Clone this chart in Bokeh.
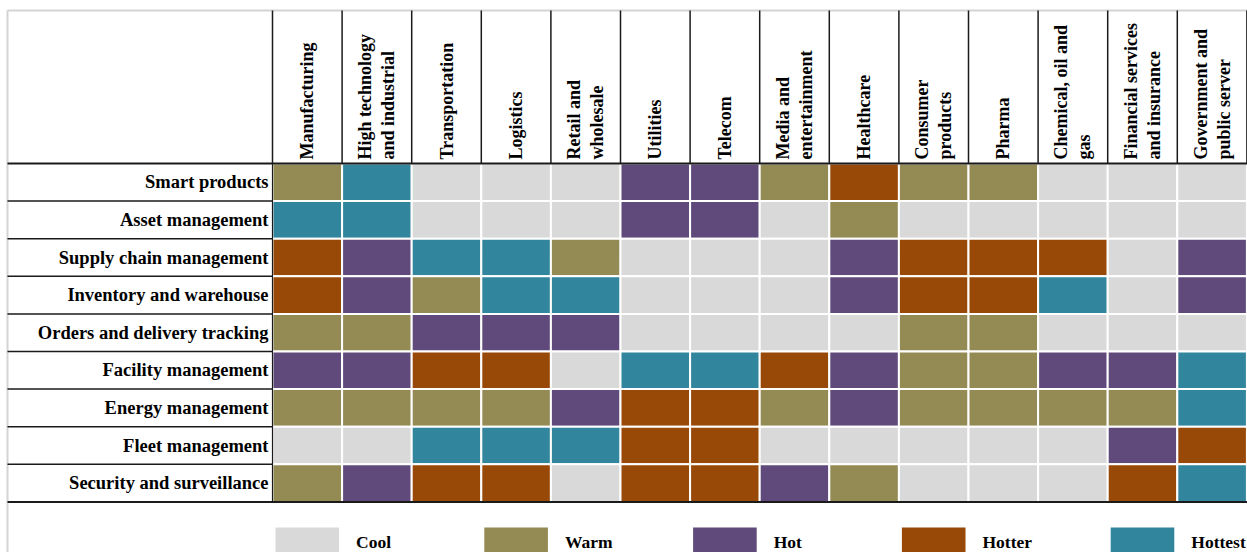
import math
from bokeh.plotting import figure
from bokeh.models import Range1d, ColumnDataSource
from bokeh.core.properties import value
from bokeh.embed import file_html
from bokeh.resources import INLINE

# ---------------- data ----------------
industries = [
    "Manufacturing",
    "High technology\nand industrial",
    "Transportation",
    "Logistics",
    "Retail and\nwholesale",
    "Utilities",
    "Telecom",
    "Media and\nentertainment",
    "Healthcare",
    "Consumer\nproducts",
    "Pharma",
    "Chemical, oil and\ngas",
    "Financial services\nand insurance",
    "Government and\npublic server",
]

use_cases = [
    "Smart products",
    "Asset management",
    "Supply chain management",
    "Inventory and warehouse",
    "Orders and delivery tracking",
    "Facility management",
    "Energy management",
    "Fleet management",
    "Security and surveillance",
]

levels = ["Cool", "Warm", "Hot", "Hotter", "Hottest"]
level_colors = ["#d9d9d9", "#948a54", "#604a7b", "#984807", "#31859c"]

smart_products = ["Warm", "Hottest", "Cool", "Cool", "Cool", "Hot", "Hot", "Warm", "Hotter", "Warm", "Warm", "Cool", "Cool", "Cool"]
asset_management = ["Hottest", "Hottest", "Cool", "Cool", "Cool", "Hot", "Hot", "Cool", "Warm", "Cool", "Cool", "Cool", "Cool", "Cool"]
supply_chain = ["Hotter", "Hot", "Hottest", "Hottest", "Warm", "Cool", "Cool", "Cool", "Hot", "Hotter", "Hotter", "Hotter", "Cool", "Hot"]
inventory = ["Hotter", "Hot", "Warm", "Hottest", "Hottest", "Cool", "Cool", "Cool", "Hot", "Hotter", "Hotter", "Hottest", "Cool", "Hot"]
orders = ["Warm", "Warm", "Hot", "Hot", "Hot", "Cool", "Cool", "Cool", "Cool", "Warm", "Warm", "Cool", "Cool", "Cool"]
facility = ["Hot", "Hot", "Hotter", "Hotter", "Cool", "Hottest", "Hottest", "Hotter", "Hot", "Warm", "Warm", "Hot", "Hot", "Hottest"]
energy = ["Warm", "Warm", "Warm", "Warm", "Hot", "Hotter", "Hotter", "Warm", "Hot", "Warm", "Warm", "Warm", "Warm", "Hottest"]
fleet = ["Cool", "Cool", "Hottest", "Hottest", "Hottest", "Hotter", "Hotter", "Cool", "Cool", "Cool", "Cool", "Cool", "Hot", "Hotter"]
security = ["Warm", "Hot", "Hotter", "Hotter", "Cool", "Hotter", "Hotter", "Hot", "Warm", "Cool", "Cool", "Cool", "Hotter", "Hottest"]

grid_rows = [smart_products, asset_management, supply_chain, inventory, orders,
             facility, energy, fleet, security]

# ---------------- layout ----------------
W, H = 1247, 552
X0, CW = 272.0, 69.6     # first cell column left edge, column width (px)
Y0, RH = 163.0, 37.6     # header bottom, row height (px)
LEFT_PX, TOP_PX = 7.0, 10.0

ncol, nrow = len(industries), len(use_cases)
x_left = (LEFT_PX - X0) / CW
y_top = (TOP_PX - Y0) / RH

p = figure(width=W, height=H,
           x_range=Range1d((0 - X0) / CW, (W - X0) / CW),
           y_range=Range1d((H - Y0) / RH, (0 - Y0) / RH),
           output_backend="svg", toolbar_location=None,
           x_axis_location=None, y_axis_location=None,
           min_border=0, background_fill_color="white",
           border_fill_color="white")
p.grid.visible = False
p.outline_line_color = None

FONT = value("Liberation Serif")

# cells
cx, cy, cc = [], [], []
for r, row in enumerate(grid_rows):
    for c, lvl in enumerate(row):
        cx.append(c + 0.5)
        cy.append(r + 0.5)
        cc.append(level_colors[levels.index(lvl)])
p.rect(x="x", y="y", width=1, height=1, fill_color="color",
       line_color="white", line_width=2,
       source=ColumnDataSource(dict(x=cx, y=cy, color=cc)))

# light outer border (top and left)
p.segment(x0=[x_left, x_left], y0=[y_top, y_top],
          x1=[ncol + 1, x_left], y1=[y_top, nrow + 5],
          line_color="#d4d4d4", line_width=2)

# dark header column dividers
p.segment(x0=list(range(ncol + 1)), y0=[y_top] * (ncol + 1),
          x1=list(range(ncol + 1)), y1=[0] * (ncol + 1),
          line_color="#1a1a1a", line_width=1.5)
# dark left edge of cell area
p.segment(x0=[0], y0=[0], x1=[0], y1=[nrow], line_color="#1a1a1a", line_width=1.2)

# dark row-label horizontal lines
p.segment(x0=[x_left] * (nrow - 1), y0=list(range(1, nrow)),
          x1=[0] * (nrow - 1), y1=list(range(1, nrow)),
          line_color="#1a1a1a", line_width=1.5)
# header bottom and table bottom
p.segment(x0=[x_left, x_left], y0=[0, nrow], x1=[ncol + 1, ncol + 1], y1=[0, nrow],
          line_color="#1a1a1a", line_width=2)

# row labels
p.text(x=[-4.0 / CW] * nrow, y=[r + 0.5 for r in range(nrow)], text=use_cases,
       text_align="right", text_baseline="middle", text_font=FONT,
       text_font_style="bold", text_font_size="18.5px", text_color="black")

# header labels (rotated)
p.text(x=[c + 0.5 for c in range(ncol)], y=[-4.0 / RH] * ncol, text=industries,
       angle=math.pi / 2, text_align="left", text_baseline="middle",
       text_font=FONT, text_font_style="bold", text_font_size="18px",
       text_color="black", text_line_height=1.15)

# legend
leg_x = [3 * i for i in range(len(levels))]
leg_top = (527 - Y0) / RH
leg_bot = (560 - Y0) / RH
p.rect(x=[lx + 0.5 for lx in leg_x], y=[(leg_top + leg_bot) / 2] * len(levels),
       width=1 - 6 / CW, height=leg_bot - leg_top,
       fill_color=level_colors, line_color=None)
p.text(x=[lx + 1 + 14 / CW for lx in leg_x], y=[(541 - Y0) / RH] * len(levels),
       text=levels, text_align="left", text_baseline="middle", text_font=FONT,
       text_font_style="bold", text_font_size="17.5px", text_color="black")

open("out.html", "w").write(file_html(p, INLINE))
